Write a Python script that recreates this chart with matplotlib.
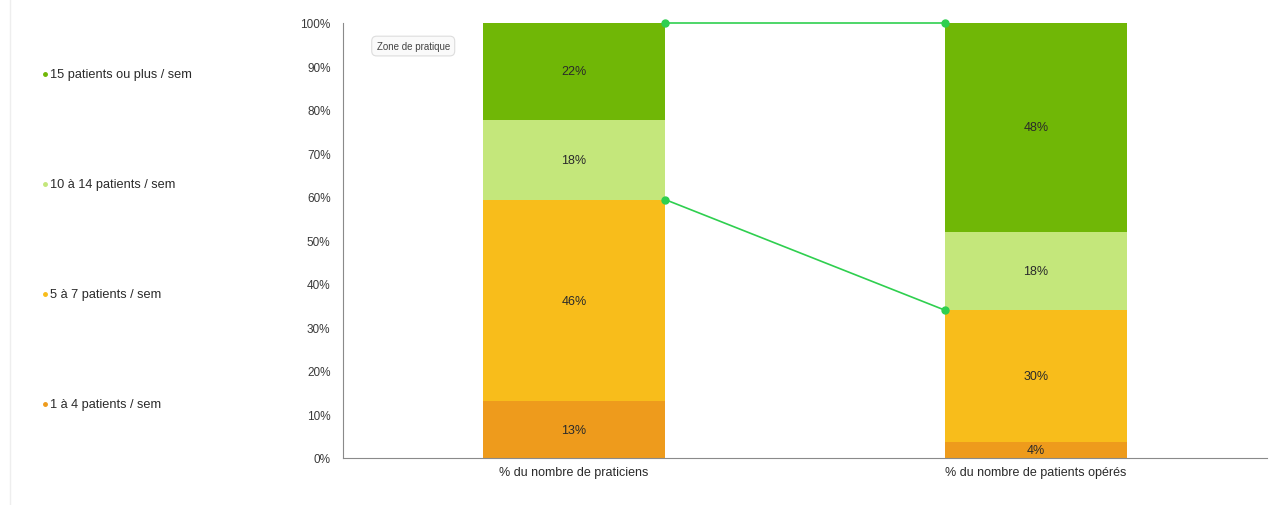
import matplotlib
matplotlib.use("Agg")
import matplotlib.pyplot as plt
from matplotlib.lines import Line2D
import numpy as np

categories = ["% du nombre de praticiens", "% du nombre de patients opérés"]
series_names = ["1 à 4 patients / sem", "5 à 7 patients / sem",
                "10 à 14 patients / sem", "15 patients ou plus / sem"]
values = {
    "1 à 4 patients / sem": [13.0, 3.6],
    "5 à 7 patients / sem": [46.4, 30.4],
    "10 à 14 patients / sem": [18.4, 18.0],
    "15 patients ou plus / sem": [22.2, 48.0],
}
labels = {
    "1 à 4 patients / sem": ["13%", "4%"],
    "5 à 7 patients / sem": ["46%", "30%"],
    "10 à 14 patients / sem": ["18%", "18%"],
    "15 patients ou plus / sem": ["22%", "48%"],
}
colors = {
    "1 à 4 patients / sem": "#ee9b1c",
    "5 à 7 patients / sem": "#f8bd1b",
    "10 à 14 patients / sem": "#c4e77b",
    "15 patients ou plus / sem": "#70b706",
}
yticks = [0, 10, 20, 30, 40, 50, 60, 70, 80, 90, 100]

plt.rcParams['font.family'] = ['Liberation Sans', 'DejaVu Sans']

fig = plt.figure(figsize=(12.81, 5.06), dpi=100)
ax = fig.add_axes([343/1281, 1-459/506, (1267-343)/1281, (459-24)/506])

x = np.arange(len(categories))
width = 0.395
bottom = np.zeros(len(categories))
tops = {}
for name in series_names:
    v = np.array(values[name])
    ax.bar(x, v, width, bottom=bottom, color=colors[name], edgecolor='none', zorder=2)
    for i in range(len(x)):
        ax.text(x[i], bottom[i] + v[i] / 2, labels[name][i], ha='center', va='center',
                fontsize=9, color='#2a2a2a', zorder=4)
    bottom = bottom + v
    tops[name] = bottom.copy()

# connecting lines
line_color = "#2fcf4f"
for name in ["15 patients ou plus / sem", "5 à 7 patients / sem"]:
    y0 = tops[name][0]
    y1 = tops[name][1]
    ax.plot([x[0] + width / 2, x[1] - width / 2], [y0, y1], color=line_color,
            lw=1.2, marker='o', ms=5, zorder=5, clip_on=False)

ax.set_xlim(-0.5, 1.5)
ax.set_ylim(0, 100)
ax.set_yticks(yticks)
ax.set_yticklabels([f"{t}%" for t in yticks], fontsize=8.5, color='#3a3a3a')
ax.set_xticks(x)
ax.set_xticklabels(categories, fontsize=9, color='#2a2a2a')
ax.tick_params(axis='y', length=0, pad=9)
ax.tick_params(axis='x', length=0, pad=6)
for s in ['top', 'right']:
    ax.spines[s].set_visible(False)
ax.spines['left'].set_color('#8a8a8a')
ax.spines['bottom'].set_color('#8a8a8a')
ax.spines['left'].set_linewidth(0.8)
ax.spines['bottom'].set_linewidth(0.8)

# box label
ax.text(0.076, 0.947, "Zone de pratique", transform=ax.transAxes, fontsize=7,
        color='#444444', ha='center', va='center',
        bbox=dict(boxstyle='round,pad=0.5', fc='#fafafa', ec='#dddddd', lw=0.8))

# left legend panel
legend_y = [75, 185, 295, 405]
legend_order = ["15 patients ou plus / sem", "10 à 14 patients / sem",
                "5 à 7 patients / sem", "1 à 4 patients / sem"]
for name, py in zip(legend_order, legend_y):
    fy = 1 - py / 506
    fig.add_artist(Line2D([45/1281], [fy], marker='o', ms=2.5, color=colors[name],
                          transform=fig.transFigure))
    fig.text(50/1281, fy, name, fontsize=9.2, color='#2a2a2a', ha='left', va='center')

fig.add_artist(Line2D([10/1281, 10/1281], [0.0, 1.0], color='#eeeeee', lw=1.0,
                      transform=fig.transFigure))

fig.savefig("out.png", dpi=100, facecolor='white')
